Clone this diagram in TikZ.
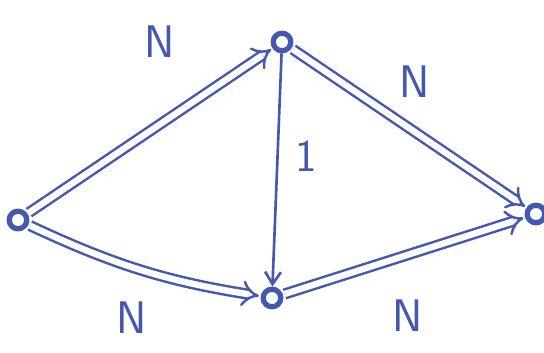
\documentclass[tikz,border=0pt]{standalone}
\usetikzlibrary{arrows.meta}

\definecolor{pen}{RGB}{68,88,178}

\begin{document}
\begin{tikzpicture}[x=0.02cm, y=-0.02cm,
  dot/.style={circle, draw=pen, line width=3pt, inner sep=0pt, minimum size=10pt},
  twin/.style={double=white, draw=pen, line width=1.4pt, double distance=3.6pt,
               -{Implies[length=7pt]}, shorten >=1pt, shorten <=1pt},
  solo/.style={draw=pen, line width=1.5pt, -{Straight Barb[length=7pt,width=9pt]}},
  lab/.style={text=pen, font=\fontsize{26}{26}\selectfont\sffamily}
]
\useasboundingbox (0,0) rectangle (544,352);
\node[dot] (s) at (18,220) {};
\node[dot] (t) at (282,42) {};
\node[dot] (b) at (272,298) {};
\node[dot] (r) at (536,214) {};
\draw[twin] (s) -- (t);
\draw[twin] (s) to[bend right=8] (b);
\draw[twin] (t) -- (r);
\draw[twin] (b) -- (r);
\draw[solo] (t) -- (b);
\node[lab] (ls) at (160,42) {N};
\node[lab] (lb) at (132,318) {N};
\node[lab] (lt) at (415,82) {N};
\node[lab] (lr) at (408,316) {N};
\node[lab] (lm) at (306,156) {1};
\end{tikzpicture}
\end{document}
